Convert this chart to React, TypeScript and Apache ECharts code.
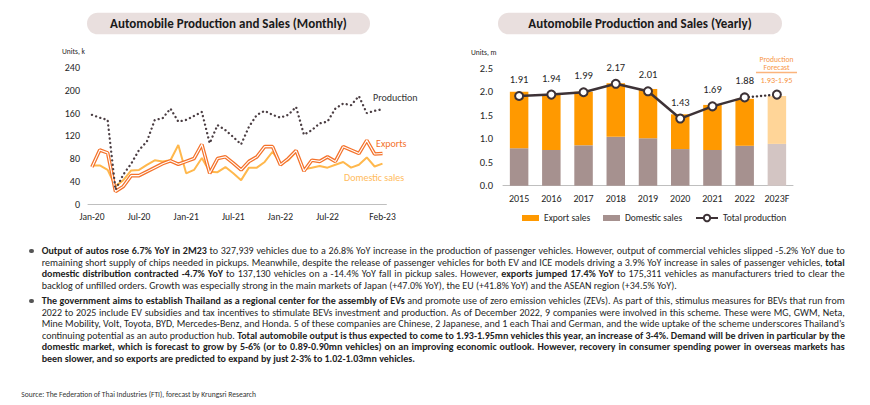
import React, { useEffect, useRef } from "react";
import * as echarts from "echarts";

// ---------- data ----------
const months = [
  "Jan-20","Feb-20","Mar-20","Apr-20","May-20","Jun-20","Jul-20","Aug-20","Sep-20","Oct-20","Nov-20","Dec-20",
  "Jan-21","Feb-21","Mar-21","Apr-21","May-21","Jun-21","Jul-21","Aug-21","Sep-21","Oct-21","Nov-21","Dec-21",
  "Jan-22","Feb-22","Mar-22","Apr-22","May-22","Jun-22","Jul-22","Aug-22","Sep-22","Oct-22","Nov-22","Dec-22",
  "Jan-23","Feb-23",
];
const monthlyProduction = [157,152,148,25,52,71,95,110,148,151,168,145,148,155,162,107,139,130,118,105,136,157,164,157,152,157,171,122,130,142,145,168,177,174,190,160,164,167];
const monthlyExports = [65,95,90,22,31,50,50,57,64,71,76,70,75,80,105,54,80,83,72,60,75,83,101,101,69,80,94,58,77,75,83,75,101,95,89,112,88,89];
const monthlyDomestic = [68,68,60,31,42,59,60,69,77,75,77,104,54,60,81,57,56,65,54,42,64,64,74,92,71,77,92,61,64,67,64,69,74,64,69,82,66,71];
const monthlyTicks = [0, 40, 80, 120, 160, 200, 240];

const years = ["2015","2016","2017","2018","2019","2020","2021","2022","2023F"];
const yearlyExport = [1.2, 1.18, 1.14, 1.14, 1.05, 0.74, 0.96, 1.0, 1.02];
const yearlyDomestic = [0.8, 0.76, 0.86, 1.04, 1.01, 0.78, 0.76, 0.85, 0.89];
const yearlyProduction = [1.91, 1.94, 1.99, 2.17, 2.01, 1.43, 1.69, 1.88];
const forecastProduction = 1.94;
const forecastRange = "1.93-1.95";
const yearlyTicks = [0, 0.5, 1.0, 1.5, 2.0, 2.5];

type Seg = [boolean, string];
const para1: Seg[][] = [
  [[true, "Output of autos rose 6.7% YoY in 2M23"], [false, " to 327,939 vehicles due to a 26.8% YoY increase in the production of passenger vehicles. However, output of commercial vehicles slipped -5.2% YoY due to"]],
  [[false, "remaining short supply of chips needed in pickups. Meanwhile, despite the release of passenger vehicles for both EV and ICE models driving a 3.9% YoY increase in sales of passenger vehicles, "], [true, "total"]],
  [[true, "domestic distribution contracted -4.7% YoY"], [false, " to 137,130 vehicles on a -14.4% YoY fall in pickup sales. However, "], [true, "exports jumped 17.4% YoY"], [false, " to 175,311 vehicles as manufacturers tried to clear the"]],
  [[false, "backlog of unfilled orders. Growth was especially strong in the main markets of Japan (+47.0% YoY), the EU (+41.8% YoY) and the ASEAN region (+34.5% YoY)."]],
];
const para2: Seg[][] = [
  [[true, "The government aims to establish Thailand as a regional center for the assembly of EVs"], [false, " and promote use of zero emission vehicles (ZEVs). As part of this, stimulus measures for BEVs that run from"]],
  [[false, "2022 to 2025 include EV subsidies and tax incentives to stimulate BEVs investment and production. As of December 2022, 9 companies were involved in this scheme. These were MG, GWM, Neta,"]],
  [[false, "Mine Mobility, Volt, Toyota, BYD, Mercedes-Benz, and Honda. 5 of these companies are Chinese, 2 Japanese, and 1 each Thai and German, and the wide uptake of the scheme underscores Thailand\u2019s"]],
  [[false, "continuing potential as an auto production hub. "], [true, "Total automobile output is thus expected to come to 1.93-1.95mn vehicles this year, an increase of 3-4%. Demand will be driven in particular by the"]],
  [[true, "domestic market, which is forecast to grow by 5-6% (or to 0.89-0.90mn vehicles) on an improving economic outlook. However, recovery in consumer spending power in overseas markets has"]],
  [[true, "been slower, and so exports are predicted to expand by just 2-3% to 1.02-1.03mn vehicles."]],
];
const sourceText = "Source: The Federation of Thai Industries (FTI), forecast by Krungsri Research";

const FONT = "Carlito, Lato, 'Liberation Sans', sans-serif";
const TEXT_LEFT = 41.7;
const TEXT_W = 803;
const SOURCE_W = 235;

function Para({ lines, top, lh }: { lines: Seg[][]; top: number; lh: number }) {
  return (
    <div style={{ position: "absolute", left: TEXT_LEFT, top, width: TEXT_W }}>
      <div style={{ position: "absolute", left: -12.5, top: lh / 2 - 2, width: 4.5, height: 4.5, borderRadius: 3, background: "#555" }} />
      {lines.map((segs, i) => (
        <div key={i} style={{ height: lh, lineHeight: lh + "px", whiteSpace: "nowrap" }}>
          <span className="jl" data-last={i === lines.length - 1 ? "1" : "0"} style={{ display: "inline-block", transformOrigin: "left center" }}>
            {segs.map((s, j) => (
              <span key={j} style={{ fontWeight: s[0] ? 700 : 400 }}>{s[1]}</span>
            ))}
          </span>
        </div>
      ))}
    </div>
  );
}

export default function App() {
  const ref = useRef<HTMLDivElement>(null);
  const srcRef = useRef<HTMLSpanElement>(null);

  useEffect(() => {
    const adjust = () => {
      document.querySelectorAll<HTMLSpanElement>("span.jl").forEach((el) => {
        el.style.wordSpacing = "0px";
        el.style.transform = "";
        const w = el.getBoundingClientRect().width;
        const spaces = ((el.textContent || "").match(/ /g) || []).length;
        if (w > TEXT_W) {
          el.style.transform = `scaleX(${TEXT_W / w})`;
        } else if (el.dataset.last !== "1" && spaces > 0) {
          el.style.wordSpacing = (TEXT_W - w) / spaces + "px";
        }
      });
      const s = srcRef.current;
      if (s) {
        s.style.fontSize = "7px";
        const w = s.getBoundingClientRect().width;
        if (w > 0) s.style.fontSize = (7 * SOURCE_W) / w + "px";
      }
    };
    adjust();
    if ((document as any).fonts && (document as any).fonts.ready) (document as any).fonts.ready.then(adjust);
  }, []);

  useEffect(() => {
    if (!ref.current) return;
    const chart = echarts.init(ref.current, undefined, { renderer: "svg" });
    const fIdx = years.length - 1;
    const solidLine = years.map((_, i) => (i < yearlyProduction.length ? yearlyProduction[i] : "-"));
    const dottedLine = years.map((_, i) => {
      if (i === yearlyProduction.length - 1) return { value: yearlyProduction[i], symbol: "none" };
      if (i === fIdx) return { value: forecastProduction };
      return "-";
    });
    const txt = "#262626";
    const option: any = {
      animation: false,
      textStyle: { fontFamily: FONT },
      grid: [
        { left: 88, top: 67.7, width: 298.4, height: 136.3 },
        { left: 503, top: 68.3, width: 290, height: 117.4 },
      ],
      xAxis: [
        {
          gridIndex: 0, type: "category", data: months, boundaryGap: true,
          axisLine: { lineStyle: { color: "#bfbfbf", width: 1 } }, axisTick: { show: false },
          axisLabel: {
            color: txt, fontSize: 9.5, margin: 8, fontFamily: FONT,
            interval: (idx: number) => (idx % 6 === 0 && idx < months.length - 2) || idx === months.length - 1,
          },
        },
        {
          gridIndex: 1, type: "category", data: years,
          axisLine: { lineStyle: { color: "#bfbfbf", width: 1 } }, axisTick: { show: false },
          axisLabel: { color: txt, fontSize: 10, margin: 8, fontFamily: FONT, interval: 0 },
        },
      ],
      yAxis: [
        {
          gridIndex: 0, type: "value", min: monthlyTicks[0], max: monthlyTicks[monthlyTicks.length - 1], interval: 40,
          axisLine: { show: false }, axisTick: { show: false }, splitLine: { show: false },
          axisLabel: { color: txt, fontSize: 10, margin: 8, fontFamily: FONT },
        },
        {
          gridIndex: 1, type: "value", min: yearlyTicks[0], max: yearlyTicks[yearlyTicks.length - 1], interval: 0.5,
          axisLine: { show: false }, axisTick: { show: false }, splitLine: { show: false },
          axisLabel: { color: txt, fontSize: 10.5, margin: 10, fontFamily: FONT, formatter: (v: number) => v.toFixed(1) },
        },
      ],
      legend: [
        { data: [{ name: "Export sales", icon: "rect" }], left: 517, top: 208, itemWidth: 17, itemHeight: 6, textStyle: { color: txt, fontSize: 9.5, fontFamily: FONT }, itemGap: 4 },
        { data: [{ name: "Domestic sales", icon: "rect" }], left: 598, top: 208, itemWidth: 17, itemHeight: 6, textStyle: { color: txt, fontSize: 9.5, fontFamily: FONT } },
        { data: ["Total production"], left: 690, top: 208, itemWidth: 22, itemHeight: 8, textStyle: { color: txt, fontSize: 9.5, fontFamily: FONT } },
      ],
      series: [
        {
          name: "Domestic", type: "line", xAxisIndex: 0, yAxisIndex: 0, data: monthlyDomestic, symbol: "none",
          lineStyle: { color: "#ffb84d", width: 2 }, z: 2,
        },
        {
          name: "ExportsOuter", type: "line", xAxisIndex: 0, yAxisIndex: 0, data: monthlyExports, symbol: "none",
          lineStyle: { color: "#f4722b", width: 3.6 }, z: 3,
        },
        {
          name: "ExportsInner", type: "line", xAxisIndex: 0, yAxisIndex: 0, data: monthlyExports, symbol: "none",
          lineStyle: { color: "#ffffff", width: 1.1 }, z: 4,
        },
        {
          name: "Production", type: "line", xAxisIndex: 0, yAxisIndex: 0, data: monthlyProduction, symbol: "none",
          lineStyle: { color: "#4b3e43", width: 2.3, type: [0.1, 4.3], cap: "round" }, z: 5,
        },
        {
          name: "Domestic sales", type: "bar", xAxisIndex: 1, yAxisIndex: 1, stack: "sales", barWidth: 18.5,
          itemStyle: { color: "#a6918f" },
          data: yearlyDomestic.map((v, i) => ({ value: v, itemStyle: { color: i === fIdx ? "#d3c5c3" : "#a6918f" } })),
        },
        {
          name: "Export sales", type: "bar", xAxisIndex: 1, yAxisIndex: 1, stack: "sales", barWidth: 18.5,
          itemStyle: { color: "#ff9900" },
          data: yearlyExport.map((v, i) => ({ value: v, itemStyle: { color: i === fIdx ? "#ffd598" : "#ff9900" } })),
        },
        {
          name: "Forecast", type: "line", xAxisIndex: 1, yAxisIndex: 1, data: dottedLine,
          symbol: "circle", symbolSize: 8,
          itemStyle: { color: "#ffffff", borderColor: "#3d3236", borderWidth: 2 },
          lineStyle: { color: "#3d3236", width: 2.4, type: [0.1, 4], cap: "round" }, z: 4,
        },
        {
          name: "Total production", type: "line", xAxisIndex: 1, yAxisIndex: 1, data: solidLine,
          symbol: "circle", symbolSize: 8, showAllSymbol: true,
          itemStyle: { color: "#ffffff", borderColor: "#3d3236", borderWidth: 2 },
          lineStyle: { color: "#3d3236", width: 2.5 }, z: 5,
          label: { show: true, position: "top", distance: 6, color: txt, fontSize: 10.5, fontFamily: FONT, formatter: (p: any) => Number(p.value).toFixed(2) },
        },
      ],
      graphic: [
        { type: "rect", shape: { x: 87, y: 12.7, width: 283, height: 21.6, r: 10.8 }, style: { fill: "#e9dfde" } },
        { type: "text", x: 228.5, y: 23.8, style: { text: "Automobile Production and Sales (Monthly)", fill: "#1a1a1a", font: `bold 13px ${FONT}`, align: "center", verticalAlign: "middle" } },
        { type: "rect", shape: { x: 498, y: 12.7, width: 284, height: 21.6, r: 10.8 }, style: { fill: "#e9dfde" } },
        { type: "text", x: 640, y: 23.8, style: { text: "Automobile Production and Sales (Yearly)", fill: "#1a1a1a", font: `bold 13px ${FONT}`, align: "center", verticalAlign: "middle" } },
        { type: "text", x: 62, y: 51, style: { text: "Units, k", fill: txt, font: `7.5px ${FONT}`, verticalAlign: "middle" } },
        { type: "text", x: 471, y: 52, style: { text: "Units, m", fill: txt, font: `7.5px ${FONT}`, verticalAlign: "middle" } },
        { type: "text", x: 373, y: 97.5, style: { text: "Production", fill: "#333333", font: `10px ${FONT}`, verticalAlign: "middle" } },
        { type: "text", x: 376, y: 143, style: { text: "Exports", fill: "#f4722b", font: `10px ${FONT}`, verticalAlign: "middle" } },
        { type: "text", x: 344, y: 177, style: { text: "Domestic sales", fill: "#ffbb5c", font: `10px ${FONT}`, verticalAlign: "middle" } },
        { type: "text", x: 776.5, y: 59.4, style: { text: "Production", fill: "#f79646", font: `7.6px ${FONT}`, align: "center", verticalAlign: "middle" } },
        { type: "text", x: 776.5, y: 67.2, style: { text: "Forecast", fill: "#f79646", font: `7.6px ${FONT}`, align: "center", verticalAlign: "middle" } },
        { type: "line", shape: { x1: 756, y1: 72.5, x2: 797, y2: 72.5 }, style: { stroke: "#fbb47c", lineWidth: 1.5 } },
        { type: "text", x: 776.5, y: 79.5, style: { text: forecastRange, fill: "#f79646", font: `8.3px ${FONT}`, align: "center", verticalAlign: "middle" } },
      ],
    };
    chart.setOption(option);
    return () => chart.dispose();
  }, []);

  return (
    <div style={{ position: "fixed", left: 0, top: 0, width: 870, height: 405, background: "#ffffff", fontFamily: FONT, color: "#1f1f1f", fontSize: 10, overflow: "hidden" }}>
      <div ref={ref} style={{ position: "absolute", left: 0, top: 0, width: 870, height: 232 }} />
      <Para lines={para1} top={244.9} lh={11.75} />
      <Para lines={para2} top={295} lh={11.6} />
      <div style={{ position: "absolute", left: 21.3, top: 388.5, lineHeight: "9px", whiteSpace: "nowrap", color: "#333" }}>
        <span ref={srcRef} style={{ fontSize: 7 }}>{sourceText}</span>
      </div>
    </div>
  );
}
